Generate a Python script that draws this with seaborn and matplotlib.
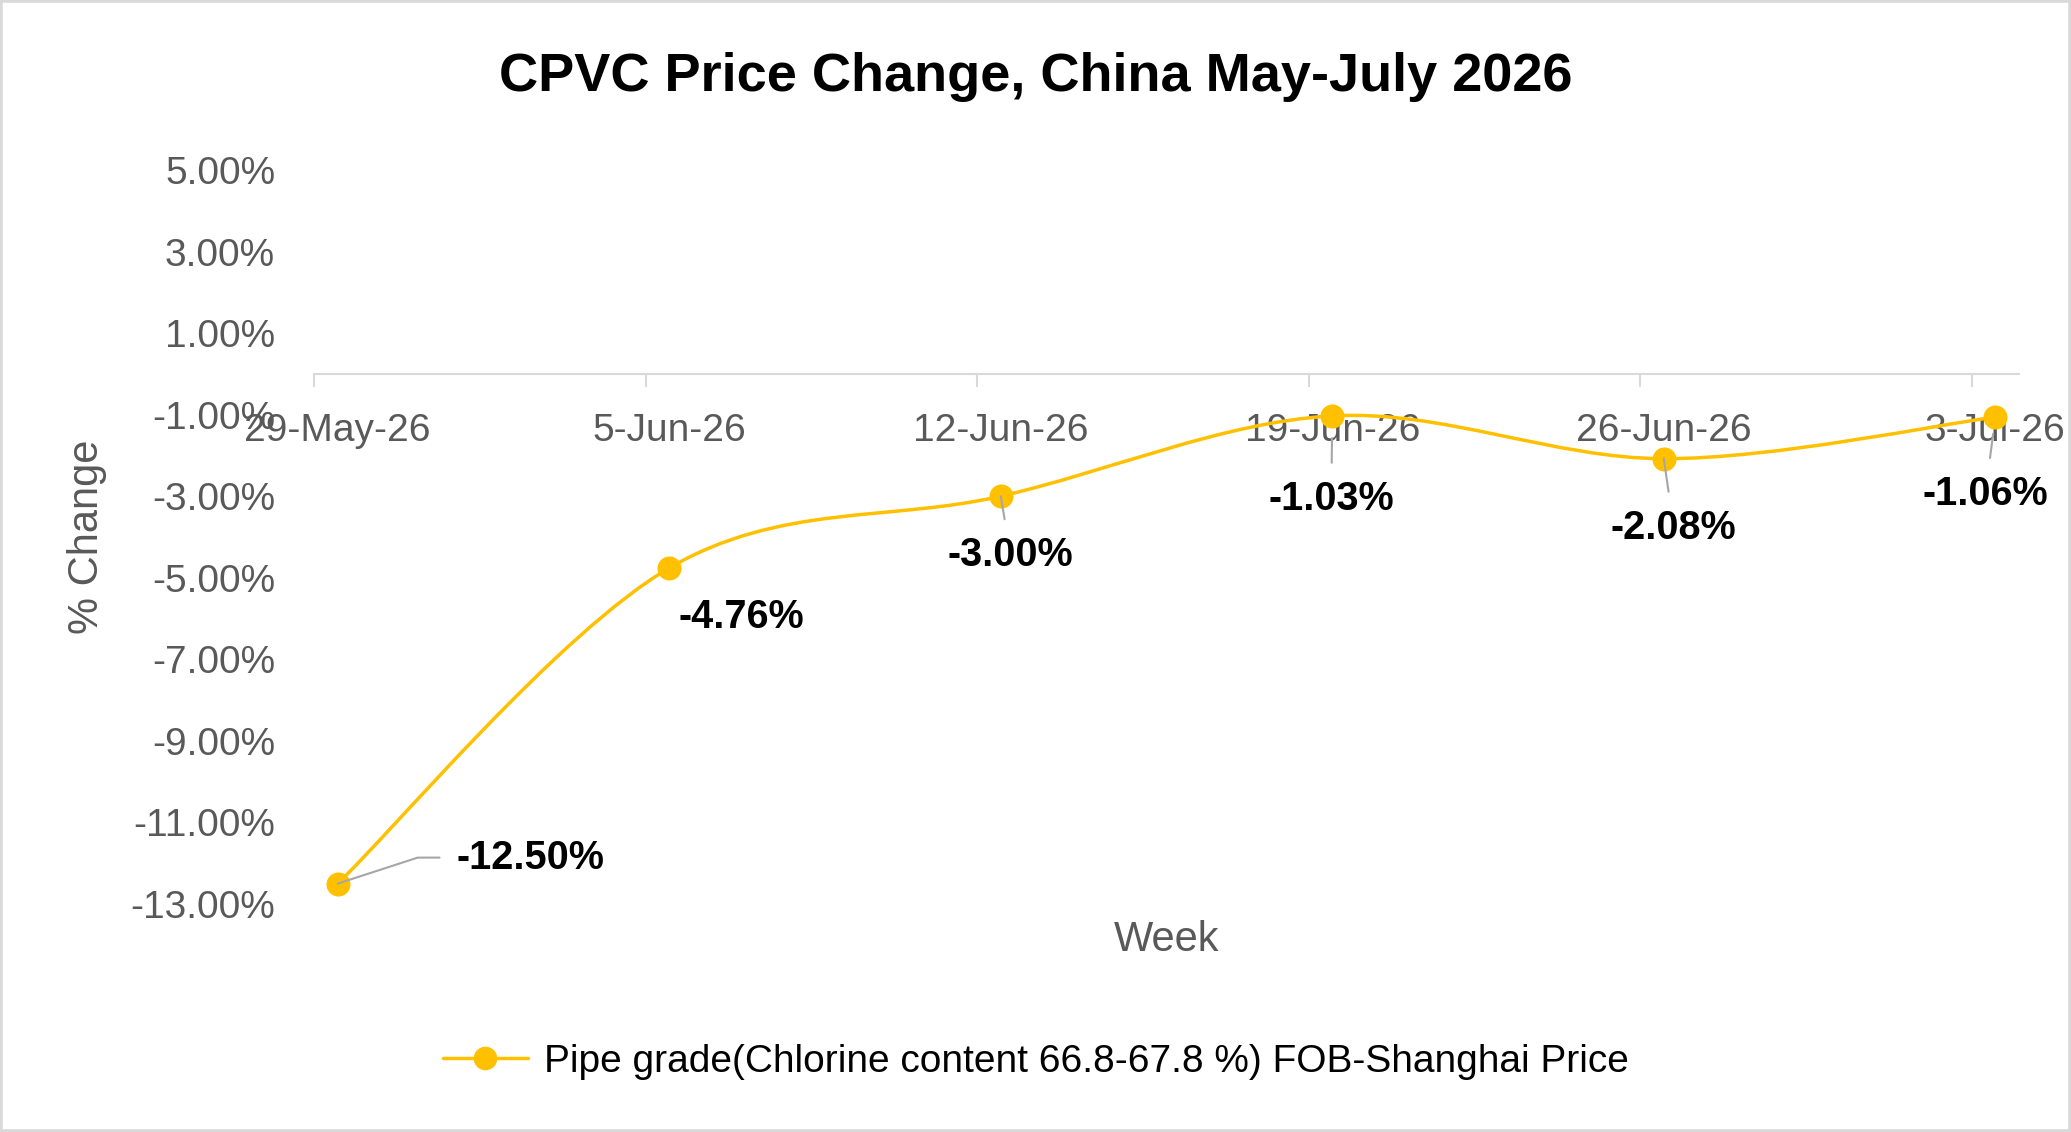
import numpy as np
import pandas as pd
import matplotlib
matplotlib.use("Agg")
import matplotlib.pyplot as plt
import seaborn as sns
from matplotlib.path import Path
from matplotlib.patches import PathPatch, Rectangle
from matplotlib.lines import Line2D
from matplotlib.ticker import FixedLocator, FuncFormatter, NullFormatter

# chart data
weeks = ["29-May-26", "5-Jun-26", "12-Jun-26", "19-Jun-26", "26-Jun-26", "3-Jul-26"]
pct_change = [-12.50, -4.76, -3.00, -1.03, -2.08, -1.06]
series_name = "Pipe grade(Chlorine content 66.8-67.8 %) FOB-Shanghai Price"
y_ticks = [5, 3, 1, -1, -3, -5, -7, -9, -11, -13]

# data label placement, pixels from the point, and leader line settings
label_offsets = [(193, 26), (72, -49), (10, -59), (-1, -83), (10, -69), (-10, -77)]
leader_shrink = [None, None, (10, 0), (10, 16), (10, 0), (10, 12)]

GOLD = "#FFC000"
GREY_TXT = "#595959"
GREY_LINE = "#d9d9d9"

sns.set_theme(style="white")
plt.rcParams["font.family"] = ["Liberation Sans", "DejaVu Sans"]

# Excel date axis: one slot per day, point in the middle of its day
dates = pd.to_datetime(weeks, format="%d-%b-%y")
days = np.asarray((dates - dates[0]).days, dtype=float)
xs = days + 0.5

fig = plt.figure(figsize=(20.71, 11.32), dpi=100)
ax = fig.add_axes([314 / 2071, 1 - 904 / 1132, 1705 / 2071, 734 / 1132])


def smooth_path(x, y):
    # Excel style smoothed line (Catmull-Rom as cubic Bezier)
    pts = np.column_stack([x, y])
    n = len(pts)
    verts = [pts[0]]
    codes = [Path.MOVETO]
    for i in range(n - 1):
        p0 = pts[i - 1] if i > 0 else pts[i]
        p1 = pts[i]
        p2 = pts[i + 1]
        p3 = pts[i + 2] if i + 2 < n else pts[i + 1]
        verts += [p1 + (p2 - p0) / 6, p2 - (p3 - p1) / 6, p2]
        codes += [Path.CURVE4] * 3
    return Path(verts, codes)


ax.add_patch(PathPatch(smooth_path(xs, pct_change), fill=False,
                       edgecolor=GOLD, lw=2.5, zorder=2))
sns.scatterplot(x=xs, y=pct_change, s=300, color=GOLD, edgecolor=GOLD,
                linewidth=0, zorder=3, ax=ax, legend=False)

ax.set_xlim(0, days[-1] + 1)
ax.set_ylim(min(y_ticks), max(y_ticks))

# y axis
ax.yaxis.set_major_locator(FixedLocator(y_ticks))
ax.yaxis.set_major_formatter(FuncFormatter(lambda v, p: f"{v:.2f}%"))
ax.tick_params(axis="y", length=0, pad=28, labelsize=28, labelcolor=GREY_TXT)

# x axis crosses at 0, tick marks between the day slots, labels on the points
ax.spines["bottom"].set_position(("data", 0))
ax.spines["bottom"].set_color(GREY_LINE)
ax.spines["bottom"].set_linewidth(1.5)
for s in ["top", "right", "left"]:
    ax.spines[s].set_visible(False)
ax.xaxis.set_major_locator(FixedLocator(days))
ax.xaxis.set_major_formatter(NullFormatter())
ax.xaxis.set_minor_locator(FixedLocator(xs))
ax.xaxis.set_minor_formatter(FuncFormatter(lambda v, p: weeks[p]))
ax.tick_params(axis="x", which="major", direction="out", length=9.5,
               width=1.5, color=GREY_LINE, bottom=True)
ax.tick_params(axis="x", which="minor", length=0, pad=28, labelsize=28,
               labelcolor=GREY_TXT, bottom=True)
ax.grid(False)

ax.set_ylabel("% Change", fontsize=30, color=GREY_TXT, va="center")
ax.yaxis.set_label_coords((87 - 314) / 1705, 0.5)
ax.set_xlabel("Week", fontsize=30, color=GREY_TXT, va="center")
ax.xaxis.set_label_coords(0.5, (904 - 940) / 734)

# data labels
for i, (xv, yv) in enumerate(zip(xs, pct_change)):
    arrow = None
    if i == 0:
        arrow = dict(arrowstyle="-", color="#a6a6a6", lw=1.5, shrinkA=10,
                     shrinkB=0, connectionstyle="angle,angleA=0,angleB=18")
    elif leader_shrink[i] is not None:
        arrow = dict(arrowstyle="-", color="#a6a6a6", lw=1.5,
                     shrinkA=leader_shrink[i][0], shrinkB=leader_shrink[i][1])
    ax.annotate(f"{yv:.2f}%", xy=(xv, yv), xytext=label_offsets[i],
                textcoords="offset pixels", ha="center", va="center",
                fontsize=28.5, fontweight="bold", color="black",
                arrowprops=arrow, zorder=4, annotation_clip=False)

fig.text(0.5, 1 - 77 / 1132, "CPVC Price Change, China May-July 2026",
         ha="center", va="center", fontsize=39, fontweight="bold", color="black")

handle = Line2D([0], [0], color=GOLD, lw=2.5, marker="o", markersize=17,
                markeredgewidth=0)
fig.legend(handles=[handle], labels=[series_name], loc="center",
           bbox_to_anchor=(0.5, 1 - 1062 / 1132), frameon=False, fontsize=28,
           handlelength=2.2, handletextpad=0.4, labelcolor="black")

fig.patches.append(Rectangle((0, 0), 1, 1, transform=fig.transFigure,
                             fill=False, edgecolor=GREY_LINE, lw=4))

fig.savefig("out.png", dpi=100)
